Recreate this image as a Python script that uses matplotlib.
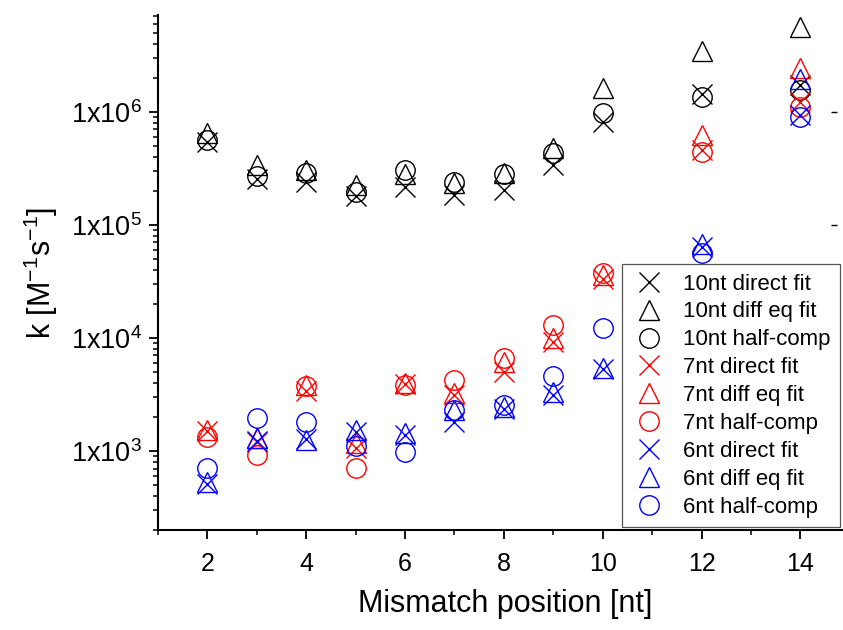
import matplotlib
matplotlib.use("Agg")
import matplotlib.pyplot as plt
import numpy as np
from matplotlib.ticker import FixedLocator, LogLocator, NullFormatter

plt.rcParams['font.family'] = ['Liberation Sans', 'DejaVu Sans']
plt.rcParams['mathtext.fontset'] = 'custom'
plt.rcParams['mathtext.rm'] = 'Liberation Sans'
plt.rcParams['mathtext.default'] = 'regular'

pos = [2, 3, 4, 5, 6, 7, 8, 9, 10, 12, 14]

# 10nt
k10_direct = [5.4e5, 2.55e5, 2.4e5, 1.81e5, 2.17e5, 1.84e5, 2.04e5, 3.4e5, 8.2e5, 1.44e6, 1.73e6]
k10_diffeq = [6.5e5, 3.4e5, 3.07e5, 2.26e5, 2.82e5, 2.35e5, 2.9e5, 4.8e5, 1.63e6, 3.47e6, 5.65e6]
k10_half = [5.65e5, 2.72e5, 2.89e5, 1.96e5, 3.07e5, 2.4e5, 2.8e5, 4.34e5, 9.8e5, 1.36e6, 1.57e6]
# 7nt
k7_direct = [1.51e3, 1.21e3, 3.42e3, 1.07e3, 3.92e3, 3.13e3, 5.0e3, 9.3e3, 3.33e4, 4.6e5, 1.22e6]
k7_diffeq = [1.53e3, 1.30e3, 3.84e3, 1.18e3, 4.02e3, 3.26e3, 6.14e3, 1.0e4, 3.61e4, 6.25e5, 2.45e6]
k7_half = [1.34e3, 9.22e2, 3.76e3, 7.03e2, 3.84e3, 4.25e3, 6.6e3, 1.3e4, 3.76e4, 4.4e5, 1.1e6]
# 6nt
k6_direct = [5.1e2, 1.22e3, 1.28e3, 1.48e3, 1.39e3, 1.82e3, 2.37e3, 3.13e3, 5.35e3, 6.4e4, 9.4e5]
k6_diffeq = [5.35e2, 1.30e3, 1.25e3, 1.53e3, 1.44e3, 2.3e3, 2.47e3, 3.33e3, 5.43e3, 6.8e4, 1.96e6]
k6_half = [7.08e2, 1.96e3, 1.82e3, 1.11e3, 9.87e2, 2.31e3, 2.55e3, 4.6e3, 1.22e4, 5.65e4, 9.0e5]

series = [
    (k10_direct, 'x', 'black', '10nt direct fit'),
    (k10_diffeq, '^', 'black', '10nt diff eq fit'),
    (k10_half, 'o', 'black', '10nt half-comp'),
    (k7_direct, 'x', 'red', '7nt direct fit'),
    (k7_diffeq, '^', 'red', '7nt diff eq fit'),
    (k7_half, 'o', 'red', '7nt half-comp'),
    (k6_direct, 'x', 'blue', '6nt direct fit'),
    (k6_diffeq, '^', 'blue', '6nt diff eq fit'),
    (k6_half, 'o', 'blue', '6nt half-comp'),
]

fig = plt.figure(figsize=(8.43, 6.30), dpi=100)
ax = fig.add_axes([158/843, 100/630, 673/843, 515/630])

for vals, m, c, lab in series:
    ax.plot(pos, vals, linestyle='none', marker=m, markersize=14,
            markerfacecolor='none', markeredgecolor=c, markeredgewidth=1.0,
            label=lab)

ax.set_yscale('log')
ax.set_ylim(200, 7.2e6)
ax.set_xlim(1, 14.62)

ax.xaxis.set_major_locator(FixedLocator([2, 4, 6, 8, 10, 12, 14]))
ax.xaxis.set_minor_locator(FixedLocator([1, 3, 5, 7, 9, 11, 13]))
ax.yaxis.set_major_locator(FixedLocator([1e3, 1e4, 1e5, 1e6]))
ax.set_yticklabels([r'1x10$^{3}$', r'1x10$^{4}$', r'1x10$^{5}$', r'1x10$^{6}$'])
ax.yaxis.set_minor_locator(LogLocator(base=10, subs=np.arange(2, 10), numticks=20))
ax.yaxis.set_minor_formatter(NullFormatter())

ax.spines['top'].set_visible(False)
ax.spines['right'].set_visible(False)
ax.spines['left'].set_linewidth(1.5)
ax.spines['bottom'].set_linewidth(1.5)
# bottom axis line runs on to the right edge of the picture
ax.spines['bottom'].set_bounds(1, 14.9)

ax.tick_params(axis='both', which='major', direction='out', length=6.5, width=1.3)
ax.tick_params(axis='both', which='minor', direction='out', length=3.5, width=1.1)
ax.tick_params(axis='x', which='major', labelsize=18, pad=9)
ax.tick_params(axis='y', which='major', labelsize=19.5, pad=5)
ax.tick_params(axis='y', which='major', right=True, labelright=False)
ax.tick_params(axis='y', which='minor', right=False)

for t in ax.yaxis.get_majorticklines()[1::2]:
    t.set_color('#c0c0c0')
    t.set_markersize(4)
    t.set_markeredgewidth(1.0)

ax.set_xlabel('Mismatch position [nt]', fontsize=22, labelpad=12)
ax.xaxis.set_label_coords(0.516, -0.115)
ax.set_ylabel(r'k [M$^{-1}$s$^{-1}$]', fontsize=22, labelpad=8)

leg = ax.legend(loc='upper left', bbox_to_anchor=(0.689, 0.516), borderaxespad=0,
                fontsize=16, frameon=True, fancybox=False, framealpha=1,
                edgecolor='#555555', handletextpad=0.75, labelspacing=0.31,
                borderpad=0.42, handlelength=1.6)
leg.get_frame().set_linewidth(0.9)

fig.savefig('out.png', dpi=100)
